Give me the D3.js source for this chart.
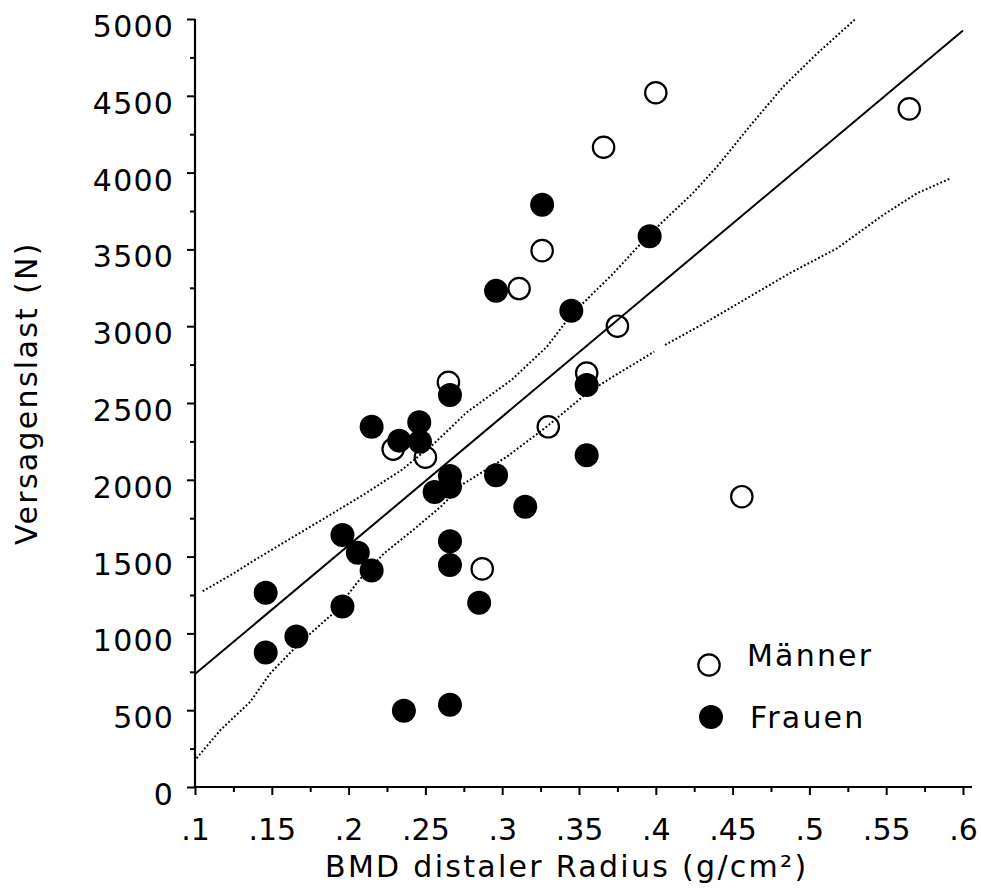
<!doctype html>
<html lang="de">
<head>
  <meta charset="utf-8">
  <title>Versagenslast vs. BMD distaler Radius</title>
  <style>
    body { margin: 0; background: #fff; }
    svg { display: block; font-family: "DejaVu Sans", sans-serif; }
    .axis path, .axis line { stroke: #000; }
    .axis text { fill: #000; font-size: 30px; font-family: "DejaVu Sans", sans-serif; }
    .title { font-size: 30px; letter-spacing: 2.3px; fill: #000; }
    .fit { fill: none; stroke: #000; stroke-width: 2; }
    .band { fill: none; stroke: #000; stroke-width: 2; stroke-dasharray: 1.8 2.2; }
    .men { fill: none; stroke: #000; stroke-width: 2.2; }
    .women { fill: #000; }
  </style>
</head>
<body>
  <div id="chart"></div>
  <script src="https://d3js.org/d3.v7.min.js"></script>
  <script>
// tick values
const xTicks = [0.1, 0.15, 0.2, 0.25, 0.3, 0.35, 0.4, 0.45, 0.5, 0.55, 0.6];
const xMinor = [0.125, 0.175, 0.225, 0.275, 0.325, 0.375, 0.425, 0.475, 0.525, 0.575];
const yTicks = [0, 500, 1000, 1500, 2000, 2500, 3000, 3500, 4000, 4500, 5000];
const yMinor = [250, 750, 1250, 1750, 2250, 2750, 3250, 3750, 4250, 4750];

// Männer (open circles): [BMD, load]
const men = [
  [0.4, 4520], [0.366, 4165], [0.565, 4415], [0.326, 3492], [0.311, 3245],
  [0.375, 3000], [0.355, 2695], [0.33, 2345], [0.265, 2635], [0.229, 2200],
  [0.25, 2147], [0.287, 1420], [0.456, 1890]
];

// Frauen (filled circles)
const women = [
  [0.326, 3790], [0.396, 3585], [0.296, 3230], [0.345, 3100], [0.355, 2617],
  [0.355, 2160], [0.266, 2552], [0.215, 2345], [0.246, 2375], [0.233, 2255],
  [0.2465, 2248], [0.266, 2025], [0.256, 1920], [0.266, 1955], [0.296, 2030],
  [0.315, 1825], [0.196, 1640], [0.206, 1525], [0.215, 1410], [0.266, 1600],
  [0.266, 1445], [0.285, 1200], [0.146, 1265], [0.196, 1175], [0.166, 980],
  [0.146, 875], [0.236, 497], [0.266, 535]
];

// regression line and confidence band
const fitLine = [[0.1, 735], [0.6, 4925]];
const bandUpper = [
  [0.105, 1275], [0.125, 1390], [0.136, 1460], [0.155, 1575], [0.186, 1760],
  [0.21, 1905], [0.234, 2060], [0.255, 2230], [0.277, 2440], [0.306, 2650],
  [0.329, 2865], [0.345, 3075], [0.372, 3340], [0.396, 3600], [0.424, 3865],
  [0.44, 4040], [0.461, 4300], [0.483, 4560], [0.505, 4775], [0.53, 5000]
];
const bandLowerA = [
  [0.101, 187], [0.117, 376], [0.136, 555], [0.149, 740], [0.168, 936],
  [0.19, 1131], [0.207, 1348], [0.223, 1521], [0.242, 1673], [0.26, 1825],
  [0.275, 1975], [0.303, 2150], [0.329, 2346], [0.355, 2563], [0.372, 2671],
  [0.399, 2834]
];
const bandLowerB = [
  [0.406, 2878], [0.43, 3010], [0.45, 3127], [0.487, 3344], [0.518, 3507],
  [0.548, 3724], [0.57, 3865], [0.592, 3963]
];

const legendItems = ['Männer', 'Frauen'];

const width = 981;
const height = 888;

const svg = d3.select('#chart')
  .append('svg')
  .attr('width', width)
  .attr('height', height);

const x = d3.scaleLinear().domain([0.1, 0.6]).range([195, 963]);
const y = d3.scaleLinear().domain([0, 5000]).range([787, 19]);

const fmtX = d => d3.format('.2~f')(d).replace(/^0/, '');

// x axis: major + minor ticks
const xAxis = svg.append('g')
  .attr('class', 'axis')
  .attr('transform', 'translate(0,' + y(0) + ')')
  .call(d3.axisBottom(x).tickValues(xTicks).tickSize(8).tickSizeOuter(0).tickFormat(fmtX));
xAxis.select('.domain').remove();
xAxis.selectAll('line').attr('stroke-width', 2);
xAxis.selectAll('text').attr('y', 53).attr('dy', 0);

svg.append('g')
  .attr('class', 'axis')
  .attr('transform', 'translate(0,' + y(0) + ')')
  .call(d3.axisBottom(x).tickValues(xMinor).tickSize(5).tickFormat(''))
  .call(g => g.select('.domain').remove())
  .selectAll('line').attr('stroke-width', 2);

// y axis: major + minor ticks
const yAxis = svg.append('g')
  .attr('class', 'axis')
  .attr('transform', 'translate(' + x(0.1) + ',0)')
  .call(d3.axisLeft(y).tickValues(yTicks).tickSize(8).tickSizeOuter(0).tickPadding(13).tickFormat(d3.format('d')));
yAxis.select('.domain').remove();
yAxis.selectAll('line').attr('stroke-width', 2);
yAxis.selectAll('text').attr('dy', 0).attr('y', 17.5).style('letter-spacing', '1.2px');

svg.append('g')
  .attr('class', 'axis')
  .attr('transform', 'translate(' + x(0.1) + ',0)')
  .call(d3.axisLeft(y).tickValues(yMinor).tickSize(5).tickFormat(''))
  .call(g => g.select('.domain').remove())
  .selectAll('line').attr('stroke-width', 2);

// axis lines
svg.append('line')
  .attr('x1', x(0.1)).attr('x2', x(0.6) + 9)
  .attr('y1', y(0)).attr('y2', y(0))
  .attr('stroke', '#000').attr('stroke-width', 2.2);
svg.append('line')
  .attr('x1', x(0.1)).attr('x2', x(0.1))
  .attr('y1', y(5000)).attr('y2', y(0))
  .attr('stroke', '#000').attr('stroke-width', 2.2);

// axis titles
svg.append('text')
  .attr('class', 'title')
  .attr('x', 325)
  .attr('y', 877)
  .text('BMD distaler Radius (g/cm²)');

svg.append('text')
  .attr('class', 'title')
  .attr('transform', 'translate(37,' + 545 + ') rotate(-90)')
  .attr('text-anchor', 'start')
  .text('Versagenslast (N)');

// regression line and band
const line = d3.line().x(d => x(d[0])).y(d => y(d[1]));

svg.append('path').attr('class', 'fit').attr('d', line(fitLine));
[bandUpper, bandLowerA, bandLowerB].forEach(b => {
  svg.append('path').attr('class', 'band').attr('d', line(b));
});

// points: open first, filled drawn over them
svg.append('g')
  .selectAll('circle')
  .data(men)
  .join('circle')
  .attr('class', 'men')
  .attr('cx', d => x(d[0]))
  .attr('cy', d => y(d[1]))
  .attr('r', 10.7);

svg.append('g')
  .selectAll('circle')
  .data(women)
  .join('circle')
  .attr('class', 'women')
  .attr('cx', d => x(d[0]))
  .attr('cy', d => y(d[1]))
  .attr('r', 12);

// legend
const legend = svg.append('g')
  .selectAll('g')
  .data(legendItems)
  .join('g')
  .attr('transform', (d, i) => 'translate(' + (709 + i * 2) + ',' + (665 + i * 52) + ')');

legend.append('circle')
  .attr('r', (d, i) => i === 0 ? 10.7 : 12)
  .attr('class', (d, i) => i === 0 ? 'men' : 'women');

legend.append('text')
  .attr('class', 'title')
  .attr('x', (d, i) => i === 0 ? 38 : 39)
  .attr('y', (d, i) => i === 0 ? 1 : 11)
  .style('letter-spacing', '2.2px')
  .text(d => d);
  </script>
</body>
</html>
